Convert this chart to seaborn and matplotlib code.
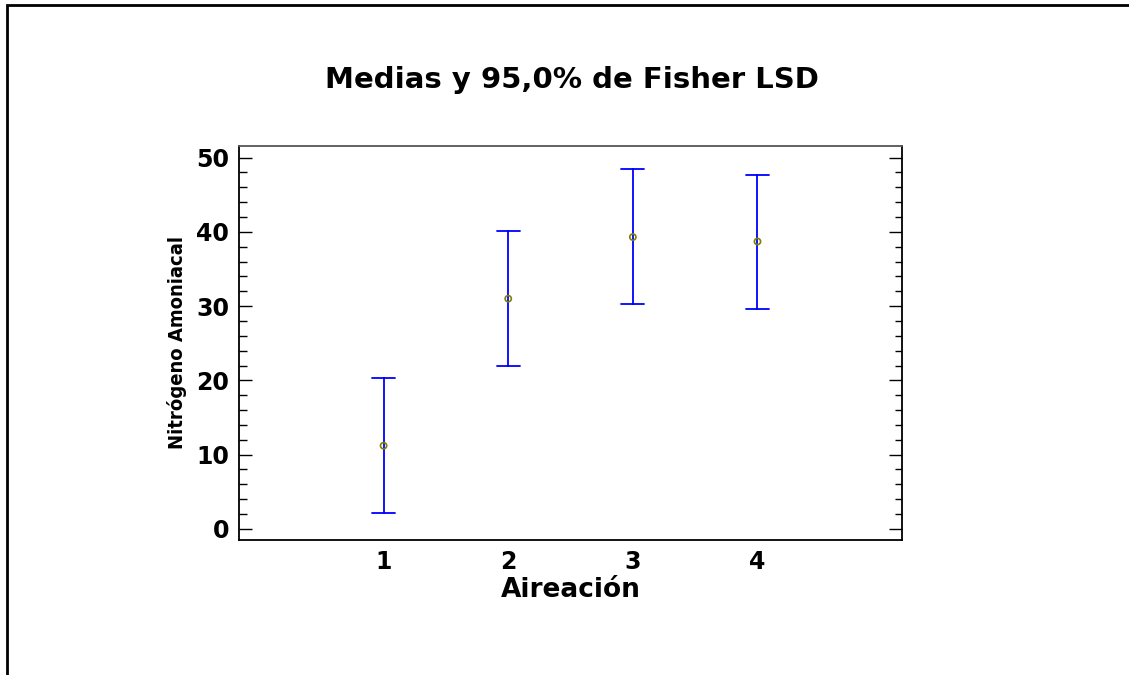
import pandas as pd
import matplotlib
matplotlib.use("Agg")
import matplotlib.pyplot as plt
import seaborn as sns
from matplotlib import font_manager
from matplotlib.patches import Rectangle
from matplotlib.ticker import MultipleLocator

# Fisher LSD 95% intervals
aireacion = [1, 2, 3, 4]
medias = [11.2, 31.0, 39.3, 38.7]
limite_inf = [2.1, 21.9, 30.3, 29.6]
limite_sup = [20.3, 40.1, 48.4, 47.7]
y_ticks = [0, 10, 20, 30, 40, 50]

titulo = "Medias y 95,0% de Fisher LSD"
x_label = "Aireación"
y_label = "Nitrógeno Amoniacal"


def build_interval_frame():
    rows = []
    for g, lo, hi in zip(aireacion, limite_inf, limite_sup):
        rows.append({"Aireación": g, "valor": lo})
        rows.append({"Aireación": g, "valor": hi})
    return pd.DataFrame(rows)


def narrow_bold_font(size):
    # condensed bold face for the y label, if one is installed
    for f in font_manager.fontManager.ttflist:
        name_ok = "Narrow" in f.name or "Condensed" in f.name or \
            str(f.stretch) in ("condensed", "semi-condensed", "75", "87")
        if name_ok and f.weight in ("bold", 700):
            return font_manager.FontProperties(fname=f.fname, size=size)
    return font_manager.FontProperties(family="DejaVu Sans", weight="bold",
                                       size=size * 0.85)


sns.set_theme(style="white")
plt.rcParams["font.family"] = ["DejaVu Sans"]
plt.rcParams["font.weight"] = "bold"
plt.rcParams["text.color"] = "black"
plt.rcParams["axes.labelcolor"] = "black"
plt.rcParams["xtick.color"] = "black"
plt.rcParams["ytick.color"] = "black"

fig = plt.figure(figsize=(11.29, 6.75), dpi=100)
ax = fig.add_axes([0.2117, 0.2, 0.5873, 0.5841])

df = build_interval_frame()
sns.pointplot(data=df, x="Aireación", y="valor", native_scale=True,
              estimator="mean", errorbar=("pi", 100), capsize=0.185,
              color="#0000ff", linestyle="none", marker="",
              err_kws={"linewidth": 1.3}, ax=ax)
sns.scatterplot(x=aireacion, y=medias, marker="o", s=20, fc="none",
                ec="#808000", linewidth=1.2, zorder=5, ax=ax)

ax.set_xlim(-0.16, 5.16)
ax.set_ylim(-1.5, 51.6)
ax.set_xticks(aireacion)
ax.set_xticklabels([str(a) for a in aireacion])
ax.set_yticks(y_ticks)
ax.yaxis.set_minor_locator(MultipleLocator(2))

ax.tick_params(axis="x", length=0, pad=7, labelsize=17)
ax.tick_params(axis="y", which="major", direction="in", length=9.4, width=1,
               color="black", left=True, right=True, labelsize=17, pad=7)
ax.tick_params(axis="y", which="minor", direction="in", length=5.4, width=1,
               color="black", left=True, right=True)

for side in ["left", "right", "bottom"]:
    ax.spines[side].set_color("black")
    ax.spines[side].set_linewidth(1.3)
ax.spines["top"].set_color("#555555")
ax.spines["top"].set_linewidth(1.3)

ax.set_xlabel(x_label, fontsize=19, fontweight="bold", color="black")
ax.xaxis.set_label_coords(0.5, -0.095)
ax.set_ylabel(y_label, fontproperties=narrow_bold_font(14.5), color="black")
ax.yaxis.set_label_coords(-0.078, 0.5)

fig.text(0.5065, 0.8815, titulo, ha="center", va="center",
         fontsize=21, fontweight="bold", color="black")

# outer frame of the exported chart (only top and left edges visible)
fig.patches.append(Rectangle((6.5 / 1129, -0.2), 1.5, 0.9919 + 0.2,
                             transform=fig.transFigure, fill=False,
                             edgecolor="black", linewidth=2, clip_on=False))

plt.savefig("out.png", format="png")
plt.close()
